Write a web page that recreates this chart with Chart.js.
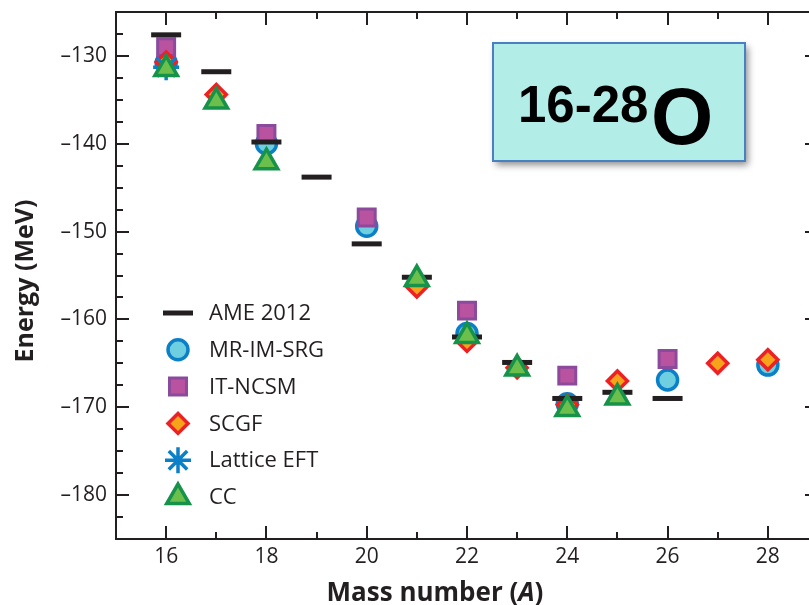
<!DOCTYPE html>
<html>
<head>
<meta charset="utf-8">
<script src="https://cdn.jsdelivr.net/npm/chart.js@4.4.1/dist/chart.umd.min.js"></script>
<style>
html, body { margin: 0; padding: 0; background: #fff; overflow: hidden; }
#wrap { width: 809px; height: 605px; overflow: hidden; }
canvas { display: block; }
</style>
</head>
<body>
<div id="wrap"><canvas id="oxygenChart" width="820" height="605"></canvas></div>
<script>
// ground-state energies of 16-28O
const ameA = [16, 17, 18, 19, 20, 21, 22, 23, 24, 25, 26];
const ameE = [-127.6, -131.8, -139.8, -143.8, -151.4, -155.2, -162.0, -164.9, -169.0, -168.3, -169.0];

const srgA = [16, 18, 20, 22, 24, 26, 28];
const srgE = [-130.8, -140.0, -149.4, -161.6, -169.6, -166.9, -165.2];

const ncsmA = [16, 18, 20, 22, 24, 26];
const ncsmE = [-129.0, -138.9, -148.4, -159.0, -166.4, -164.5];

const scgfA = [16, 17, 21, 22, 23, 24, 25, 27, 28];
const scgfE = [-130.7, -134.4, -156.3, -162.5, -165.5, -169.7, -167.0, -165.0, -164.6];

const latticeA = [16];
const latticeE = [-131.3];

const ccA = [16, 17, 18, 21, 22, 23, 24, 25];
const ccE = [-131.5, -135.2, -142.1, -155.4, -161.9, -165.6, -170.2, -168.9];

// axes
const xTicks = [16, 18, 20, 22, 24, 26, 28];
const xMinorTicks = [17, 19, 21, 23, 25, 27];
const yTicks = [-180, -170, -160, -150, -140, -130];
const yMinorTicks = [-182.5, -177.5, -175, -172.5, -167.5, -165, -162.5, -157.5, -155,
    -152.5, -147.5, -145, -142.5, -137.5, -135, -132.5, -127.5];

const ink = '#231f20';

function pts(xs, ys) {
    return xs.map((x, i) => ({ x: x, y: ys[i] }));
}

// frame, inward ticks, titles, legend and the label box
const decorations = {
    id: 'decorations',
    afterDraw(chart) {
        const ctx = chart.ctx;
        const area = chart.chartArea;
        const xs = chart.scales.x;
        const ys = chart.scales.y;
        ctx.save();

        // frame
        ctx.strokeStyle = ink;
        ctx.lineWidth = 2;
        ctx.strokeRect(area.left, area.top, area.right - area.left, area.bottom - area.top);

        // ticks
        const tickX = (v, len) => {
            const p = Math.round(xs.getPixelForValue(v));
            ctx.beginPath();
            ctx.moveTo(p, area.bottom); ctx.lineTo(p, area.bottom - len);
            ctx.moveTo(p, area.top); ctx.lineTo(p, area.top + len);
            ctx.stroke();
        };
        const tickY = (v, len) => {
            const p = Math.round(ys.getPixelForValue(v));
            ctx.beginPath();
            ctx.moveTo(area.left, p); ctx.lineTo(area.left + len, p);
            ctx.moveTo(area.right, p); ctx.lineTo(area.right - len, p);
            ctx.stroke();
        };
        xTicks.forEach(v => tickX(v, 13));
        xMinorTicks.forEach(v => tickX(v, 7));
        yTicks.forEach(v => tickY(v, 13));
        yMinorTicks.forEach(v => tickY(v, 7));

        // axis titles
        ctx.fillStyle = ink;
        ctx.textBaseline = 'alphabetic';
        const parts = [
            ['Mass number (', 'bold 26px "Open Sans"'],
            ['A', 'italic bold 26px "Open Sans"'],
            [')', 'bold 26px "Open Sans"']
        ];
        let total = 0;
        parts.forEach(p => { ctx.font = p[1]; total += ctx.measureText(p[0]).width; });
        let tx = 435 - total / 2;
        parts.forEach(p => {
            ctx.font = p[1];
            ctx.textAlign = 'left';
            ctx.fillText(p[0], tx, 601);
            tx += ctx.measureText(p[0]).width;
        });

        ctx.save();
        ctx.translate(33, 281);
        ctx.rotate(-Math.PI / 2);
        ctx.font = 'bold 25px "Open Sans"';
        ctx.textAlign = 'center';
        ctx.fillText('Energy (MeV)', 0, 0);
        ctx.restore();

        // legend
        chart.data.datasets.forEach((ds, i) => {
            const y = 313 + i * 36.8;
            ctx.fillStyle = ds.backgroundColor;
            ctx.strokeStyle = ds.borderColor;
            ctx.lineWidth = ds.pointBorderWidth;
            Chart.helpers.drawPoint(ctx, {
                pointStyle: ds.pointStyle,
                radius: ds.pointRadius,
                rotation: 0,
                borderWidth: ds.pointBorderWidth
            }, 178, y);
            ctx.fillStyle = ink;
            ctx.font = '22px "Open Sans"';
            ctx.textAlign = 'left';
            ctx.textBaseline = 'middle';
            ctx.fillText(ds.label, 209, y + 1);
        });

        // 16-28O box
        ctx.save();
        ctx.shadowColor = 'rgba(0,0,0,0.45)';
        ctx.shadowBlur = 7;
        ctx.shadowOffsetX = 3;
        ctx.shadowOffsetY = 4;
        ctx.fillStyle = '#b3ede8';
        ctx.fillRect(493, 43, 252, 118);
        ctx.restore();
        ctx.strokeStyle = '#4a7fc1';
        ctx.lineWidth = 2;
        ctx.strokeRect(493, 43, 252, 118);
        ctx.fillStyle = '#000';
        ctx.textBaseline = 'alphabetic';
        ctx.textAlign = 'left';
        ctx.font = 'bold 51px "Liberation Sans"';
        ctx.fillText('16-28', 518, 122);
        ctx.font = 'bold 80px "Liberation Sans"';
        ctx.fillText('O', 651, 144);

        ctx.restore();
    }
};

const ctx = document.getElementById('oxygenChart').getContext('2d');

new Chart(ctx, {
    type: 'scatter',
    data: {
        datasets: [
            {
                label: 'AME 2012',
                data: pts(ameA, ameE),
                pointStyle: 'line',
                pointRadius: 15,
                pointBorderWidth: 5,
                backgroundColor: ink,
                borderColor: ink,
                order: 1
            },
            {
                label: 'MR-IM-SRG',
                data: pts(srgA, srgE),
                pointStyle: 'circle',
                pointRadius: 10,
                pointBorderWidth: 3.5,
                backgroundColor: '#6dcfe0',
                borderColor: '#0b7fc7',
                order: 5
            },
            {
                label: 'IT-NCSM',
                data: pts(ncsmA, ncsmE),
                pointStyle: 'rect',
                pointRadius: 12,
                pointBorderWidth: 3,
                backgroundColor: '#b9529f',
                borderColor: '#8b4a9c',
                order: 4
            },
            {
                label: 'SCGF',
                data: pts(scgfA, scgfE),
                pointStyle: 'rectRot',
                pointRadius: 10,
                pointBorderWidth: 3.5,
                backgroundColor: '#f7a21b',
                borderColor: '#ed2024',
                order: 3
            },
            {
                label: 'Lattice EFT',
                data: pts(latticeA, latticeE),
                pointStyle: 'star',
                pointRadius: 13,
                pointBorderWidth: 3.5,
                backgroundColor: '#0b7fc7',
                borderColor: '#0b7fc7',
                order: 2
            },
            {
                label: 'CC',
                data: pts(ccA, ccE),
                pointStyle: 'triangle',
                pointRadius: 13,
                pointBorderWidth: 3.5,
                backgroundColor: '#6cbf4a',
                borderColor: '#16924a',
                order: 0
            }
        ]
    },
    options: {
        responsive: false,
        animation: false,
        events: [],
        layout: {
            autoPadding: false,
            padding: { top: 12, right: 2, left: 0, bottom: 0 }
        },
        plugins: {
            legend: { display: false },
            tooltip: { enabled: false }
        },
        scales: {
            x: {
                type: 'linear',
                min: 15,
                max: 29,
                grid: { display: false, drawTicks: false },
                border: { display: false },
                afterBuildTicks: s => { s.ticks = xTicks.map(v => ({ value: v })); },
                afterFit: s => {
                    s.height = 66;
                    s.paddingLeft = 0;
                    s.paddingRight = 0;
                },
                ticks: {
                    padding: 5,
                    color: ink,
                    font: { family: 'Open Sans', size: 21 },
                    maxRotation: 0
                }
            },
            y: {
                type: 'linear',
                min: -185,
                max: -125,
                grid: { display: false, drawTicks: false },
                border: { display: false },
                afterBuildTicks: s => { s.ticks = yTicks.map(v => ({ value: v })); },
                afterFit: s => {
                    s.width = 116;
                    s.paddingTop = 0;
                    s.paddingBottom = 0;
                },
                ticks: {
                    padding: 9,
                    color: ink,
                    font: { family: 'Open Sans', size: 21 },
                    callback: v => '\u2013' + Math.abs(v)
                }
            }
        }
    },
    plugins: [decorations]
});
</script>
</body>
</html>
